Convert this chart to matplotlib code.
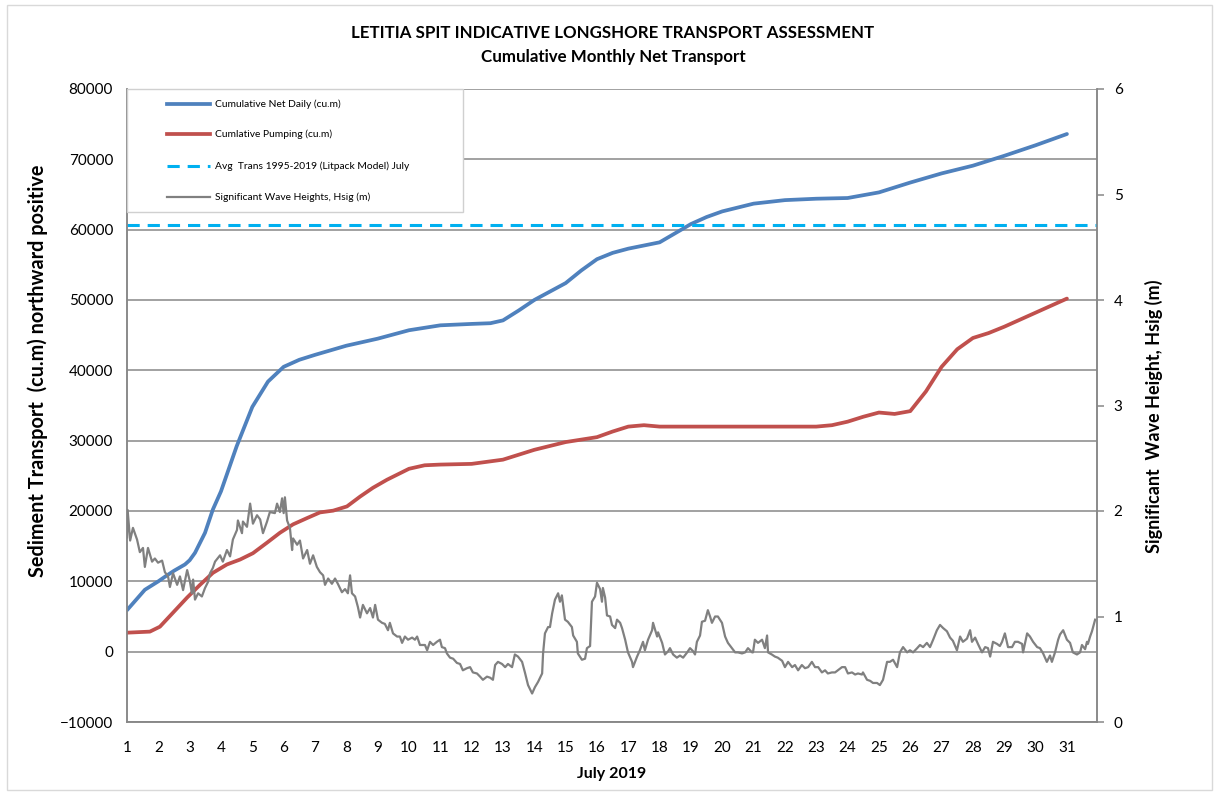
import matplotlib
matplotlib.use("Agg")
import matplotlib.pyplot as plt
from matplotlib.patches import Rectangle
from matplotlib.lines import Line2D

plt.rcParams['font.family'] = ['Lato', 'DejaVu Sans']

# кумулятивный суточный перенос (cu.m)
net_days = [1, 1.57, 2, 2.21, 2.5, 2.85, 3, 3.17, 3.49, 3.74, 4, 4.5, 5, 5.5, 6, 6.5, 7,
            8, 9, 10, 11, 12, 12.6, 13, 13.5, 14, 15, 15.5, 16, 16.5, 17, 18, 18.5, 19, 19.5,
            20, 21, 22, 23, 24, 25, 26, 27, 28, 29, 30, 31]
net_vals = [5900, 8800, 10000, 10650, 11500, 12400, 13000, 14050, 16900, 20200, 22800,
            29200, 34800, 38400, 40500, 41500, 42200,
            43500, 44500, 45700, 46400, 46600, 46700, 47100, 48500, 50000, 52400, 54200, 55800,
            56700, 57300, 58200, 59500, 60800, 61800,
            62600, 63700, 64200, 64400, 64500, 65300, 66700, 68000, 69100, 70500, 72000, 73600]

# кумулятивная откачка (cu.m)
pump_days = [1, 1.73, 2.05, 2.47, 2.92, 3.33, 3.74, 4.19, 4.61, 5.02, 5.47, 5.88, 6.3,
             6.75, 7.16, 7.58, 8.02, 8.44, 8.85, 9.3, 10, 10.5, 11, 12, 13, 14, 15, 16,
             16.5, 17, 17.5, 18, 19, 20, 21, 22, 23, 23.5, 24, 24.5, 25, 25.5, 26, 26.5,
             27, 27.5, 28, 28.5, 29, 30, 31]
pump_vals = [2700, 2850, 3550, 5550, 7700, 9500, 11200, 12400, 13100, 14000, 15500, 16900,
             18100, 19000, 19800, 20050, 20650, 22050, 23300, 24450, 26000, 26500, 26600,
             26700, 27300, 28700, 29800, 30500, 31300, 32000, 32200, 32000, 32000, 32000,
             32000, 32000, 32000, 32200, 32700, 33400, 34000, 33800, 34200, 37000,
             40500, 43000, 44600, 45300, 46200, 48200, 50200]

# средний перенос 1995-2019 (модель Litpack)
avg_days = [1, 31.96]
avg_vals = [60600, 60600]

# высоты волн Hsig (m)
wave_days = [1.00, 1.02, 1.10, 1.19, 1.32, 1.41, 1.51, 1.57, 1.67, 1.80, 1.89, 1.99, 2.12,
             2.21, 2.31, 2.37, 2.47, 2.60, 2.69, 2.79, 2.92, 3.01, 3.07, 3.11, 3.17, 3.27,
             3.39, 3.49, 3.59, 3.65, 3.74, 3.81, 3.97, 4.06, 4.19, 4.29, 4.38, 4.51, 4.54,
             4.67, 4.70, 4.83, 4.93, 5.02, 5.15, 5.25, 5.34, 5.47, 5.56, 5.72, 5.79, 5.88,
             5.95, 6.00, 6.04, 6.11, 6.20, 6.27, 6.30, 6.43, 6.52, 6.62, 6.75, 6.84, 6.94,
             7.06, 7.16, 7.26, 7.32, 7.42, 7.54, 7.64, 7.73, 7.86, 7.96, 8.05, 8.12, 8.18,
             8.28, 8.37, 8.44, 8.53, 8.66, 8.76, 8.85, 8.92, 9.01, 9.14, 9.23, 9.33, 9.39,
             9.49, 9.62, 9.71, 9.78, 9.87, 9.97, 10.10, 10.19, 10.26, 10.35, 10.42, 10.51,
             10.58, 10.67, 10.77, 10.89, 10.99, 11.05, 11.15, 11.21, 11.31, 11.41, 11.53,
             11.63, 11.72, 11.85, 11.95, 12.04, 12.17, 12.27, 12.36, 12.49, 12.59, 12.68,
             12.75, 12.84, 12.97, 13.07, 13.16, 13.29, 13.38, 13.48, 13.61, 13.70, 13.80,
             13.93, 14.02, 14.12, 14.25, 14.28, 14.34, 14.44, 14.50, 14.57, 14.66, 14.76,
             14.82, 14.88, 14.98, 15.07, 15.20, 15.24, 15.36, 15.39, 15.52, 15.62, 15.68,
             15.78, 15.84, 15.94, 16.00, 16.10, 16.16, 16.19, 16.26, 16.32, 16.42, 16.48,
             16.58, 16.64, 16.74, 16.80, 16.90, 16.99, 17.12, 17.15, 17.28, 17.37, 17.47,
             17.53, 17.63, 17.76, 17.79, 17.92, 17.95, 18.08, 18.17, 18.27, 18.33, 18.43,
             18.55, 18.65, 18.75, 18.88, 18.97, 19.07, 19.13, 19.19, 19.29, 19.35, 19.45,
             19.54, 19.61, 19.67, 19.77, 19.86, 19.99, 20.09, 20.18, 20.31, 20.41, 20.50,
             20.63, 20.73, 20.82, 20.95, 20.98, 21.04, 21.14, 21.27, 21.36, 21.43, 21.46,
             21.58, 21.68, 21.77, 21.91, 22.00, 22.10, 22.23, 22.32, 22.42, 22.54, 22.64,
             22.74, 22.86, 22.96, 23.06, 23.18, 23.28, 23.37, 23.50, 23.60, 23.69, 23.82,
             23.92, 24.01, 24.14, 24.24, 24.33, 24.46, 24.49, 24.62, 24.72, 24.81, 24.94,
             25.03, 25.13, 25.26, 25.35, 25.45, 25.58, 25.67, 25.77, 25.90, 25.99, 26.09,
             26.22, 26.31, 26.41, 26.53, 26.63, 26.73, 26.85, 26.95, 27.05, 27.17, 27.27,
             27.36, 27.49, 27.59, 27.68, 27.81, 27.91, 27.97, 28.07, 28.16, 28.29, 28.39,
             28.48, 28.55, 28.64, 28.77, 28.86, 28.93, 29.02, 29.12, 29.25, 29.34, 29.44,
             29.57, 29.60, 29.73, 29.82, 29.92, 30.05, 30.14, 30.24, 30.36, 30.46, 30.52,
             30.62, 30.72, 30.78, 30.88, 31.00, 31.10, 31.19, 31.32, 31.42, 31.48, 31.58,
             31.64, 31.67, 31.74, 31.80, 31.90]
wave_vals = [1.75, 2.01, 1.72, 1.84, 1.73, 1.61, 1.65, 1.47, 1.65, 1.52, 1.55, 1.51, 1.53,
             1.42, 1.38, 1.28, 1.41, 1.30, 1.38, 1.25, 1.44, 1.33, 1.22, 1.35, 1.16, 1.22,
             1.19, 1.27, 1.33, 1.41, 1.46, 1.52, 1.58, 1.52, 1.63, 1.57, 1.73, 1.82, 1.91,
             1.79, 1.90, 1.85, 2.07, 1.88, 1.96, 1.92, 1.79, 1.90, 1.99, 1.98, 2.07, 1.99,
             2.12, 1.98, 2.13, 1.91, 1.84, 1.63, 1.74, 1.68, 1.72, 1.55, 1.63, 1.50, 1.58,
             1.47, 1.42, 1.39, 1.30, 1.36, 1.31, 1.36, 1.31, 1.23, 1.26, 1.22, 1.39, 1.22,
             1.19, 1.09, 0.99, 1.11, 1.03, 1.08, 0.99, 1.11, 0.97, 0.94, 0.93, 0.87, 0.94,
             0.84, 0.81, 0.81, 0.75, 0.81, 0.78, 0.80, 0.78, 0.81, 0.73, 0.73, 0.73,
             0.68, 0.76, 0.73, 0.76, 0.78, 0.71, 0.70, 0.65, 0.61, 0.60, 0.56,
             0.55, 0.49, 0.51, 0.52, 0.47, 0.46, 0.43, 0.40, 0.43, 0.42, 0.40,
             0.54, 0.57, 0.55, 0.52, 0.55, 0.52, 0.64, 0.62, 0.57, 0.47, 0.35,
             0.27, 0.33, 0.38, 0.46, 0.65, 0.84, 0.90, 0.90, 1.03, 1.16, 1.22,
             1.14, 1.20, 0.97, 0.95, 0.90, 0.82, 0.76, 0.65, 0.59, 0.60, 0.70,
             0.72, 1.14, 1.19, 1.32, 1.26, 1.14, 1.27, 1.18, 1.01, 1.00, 0.92,
             0.89, 0.97, 0.94, 0.89, 0.78, 0.66, 0.57, 0.52, 0.62, 0.68, 0.76,
             0.68, 0.78, 0.87, 0.94, 0.81, 0.85, 0.75, 0.64, 0.67, 0.70, 0.64,
             0.61, 0.63, 0.61, 0.66, 0.70, 0.67, 0.64, 0.76, 0.82, 0.95, 0.96,
             1.06, 1.00, 0.94, 1.00, 1.00, 0.94, 0.81, 0.75, 0.70, 0.66, 0.66,
             0.65, 0.66, 0.70, 0.66, 0.66, 0.78, 0.75, 0.78, 0.70, 0.82, 0.66,
             0.64, 0.62, 0.61, 0.58, 0.52, 0.57, 0.52, 0.54, 0.49, 0.54, 0.51,
             0.52, 0.57, 0.52, 0.52, 0.47, 0.49, 0.46, 0.47, 0.47, 0.49, 0.52,
             0.52, 0.46, 0.47, 0.45, 0.46, 0.45, 0.47, 0.40, 0.39, 0.37, 0.37,
             0.35, 0.40, 0.57, 0.57, 0.59, 0.52, 0.66, 0.71, 0.66, 0.68, 0.66,
             0.70, 0.73, 0.71, 0.75, 0.71, 0.78, 0.87, 0.92, 0.89, 0.86, 0.80,
             0.77, 0.68, 0.81, 0.76, 0.79, 0.87, 0.76, 0.80, 0.74, 0.66, 0.71,
             0.70, 0.62, 0.76, 0.74, 0.72, 0.76, 0.84, 0.71, 0.71, 0.76, 0.76,
             0.74, 0.66, 0.84, 0.81, 0.76, 0.71, 0.70, 0.65, 0.57, 0.63, 0.57,
             0.66, 0.78, 0.83, 0.87, 0.78, 0.75, 0.66, 0.64, 0.66, 0.73, 0.69,
             0.76, 0.74, 0.81, 0.86, 0.97]

day_ticks = list(range(1, 32))
left_ticks = list(range(-10000, 80001, 10000))
right_ticks = list(range(0, 7))

legend_labels = ["Cumulative Net Daily (cu.m)", "Cumlative Pumping (cu.m)",
                 "Avg  Trans 1995-2019 (Litpack Model) July", "Significant Wave Heights, Hsig (m)"]

BLUE = "#4F81BD"
RED = "#C0504D"
CYAN = "#00B0F0"
GRAY = "#808080"
GRID = "#878787"

W, H = 1219, 796
fig = plt.figure(figsize=(W / 100, H / 100), dpi=100)
ax = fig.add_axes([127 / W, 1 - 722 / H, 970 / W, 633 / H])
ax2 = ax.twinx()

# левая ось
l1, = ax.plot(net_days, net_vals, color=BLUE, lw=2.7, solid_capstyle='round',
              solid_joinstyle='round', zorder=3)
l2, = ax.plot(pump_days, pump_vals, color=RED, lw=2.7, solid_capstyle='round',
              solid_joinstyle='round', zorder=3)
l3, = ax.plot(avg_days, avg_vals, color=CYAN, lw=2.2, dashes=(4, 2.6), zorder=3)
ax.set_ylim(-10000, 80000)
ax.set_yticks(left_ticks)
ax.set_xlim(1, 31.96)
ax.set_xticks(day_ticks)
ax.yaxis.grid(True, color=GRID, lw=1.1)
ax.set_axisbelow(True)
ax.tick_params(axis='y', length=0, labelsize=11, pad=10, labelcolor="#000000")
ax.tick_params(axis='x', length=0, labelsize=11, pad=14)
ax.set_ylabel("Sediment Transport  (cu.m) northward positive", fontsize=14.3,
              fontweight='bold')
ax.yaxis.set_label_coords(-0.081, (722 - 371) / 633)
ax.set_xlabel("July 2019", fontsize=11.5, fontweight='bold', labelpad=8)

# правая ось - волны
l4, = ax2.plot(wave_days, wave_vals, color=GRAY, lw=1.6, zorder=4)
ax2.set_ylim(0, 6)
ax2.set_yticks(right_ticks)
ax2.tick_params(axis='y', length=5, color=GRID, width=1.1, labelsize=11, pad=7)
ax2.set_ylabel("Significant  Wave Height, Hsig (m)", fontsize=13, fontweight='bold')
ax2.yaxis.set_label_coords(1.049, (722 - 416) / 633)

for a in (ax, ax2):
    a.spines['top'].set_visible(False)
    for s in ('left', 'right', 'bottom'):
        a.spines[s].set_color(GRID)
        a.spines[s].set_linewidth(1.1)

# легенда
lx1 = 336 / 970
ly0 = (722 - 212) / 633
ax2.add_patch(Rectangle((0, ly0), lx1, 1 - ly0, transform=ax2.transAxes,
                        facecolor='white', edgecolor="#D0D0D0", lw=1, zorder=10,
                        clip_on=False))
rows = [(722 - y) / 633 for y in (104, 134, 166, 197)]
for line, label, yy in zip((l1, l2, l3, l4), legend_labels, rows):
    h = Line2D([40 / 970, 83 / 970], [yy, yy], transform=ax2.transAxes,
               color=line.get_color(), lw=line.get_linewidth(), zorder=11)
    if line is l3:
        h.set_dashes((4, 2.6))
    ax2.add_line(h)
    ax2.text(88 / 970, yy, label, transform=ax2.transAxes, fontsize=7.4,
             va='center', ha='left', zorder=11)

# заголовок
fig.text(613 / W, 1 - 33 / H, "LETITIA SPIT INDICATIVE LONGSHORE TRANSPORT ASSESSMENT",
         ha='center', va='center', fontsize=12.2, fontweight='bold')
fig.text(613 / W, 1 - 57 / H, "Cumulative Monthly Net Transport",
         ha='center', va='center', fontsize=12.2, fontweight='bold')

# рамка области диаграммы
fig.patches.append(Rectangle((7 / W, 1 - 790 / H), 1205 / W, 785 / H,
                             transform=fig.transFigure, fill=False,
                             edgecolor="#D9D9D9", lw=1))

fig.savefig("out.png", dpi=100)
